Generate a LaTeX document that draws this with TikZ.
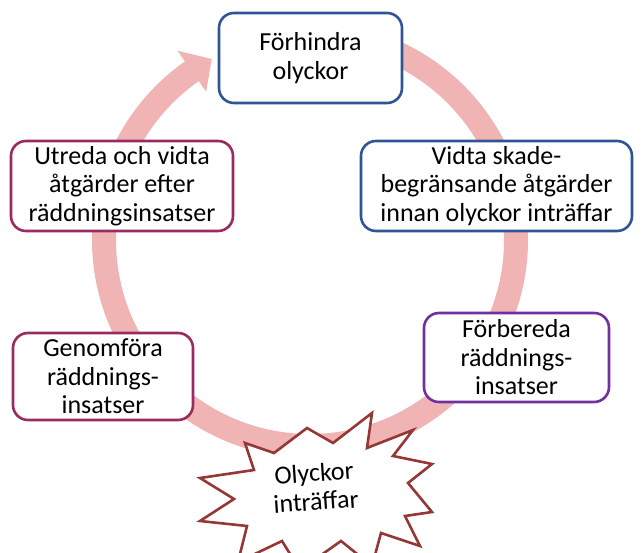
\documentclass[tikz,border=0pt]{standalone}
\usepackage{fontspec}
\setmainfont{Carlito}
\usetikzlibrary{calc}
\definecolor{ringcol}{RGB}{241,180,180}
\definecolor{boxblue}{RGB}{47,85,151}
\definecolor{boxmag}{RGB}{153,43,98}
\definecolor{boxpurple}{RGB}{112,48,160}
\definecolor{starred}{RGB}{149,55,53}
\tikzset{
  cyclebox/.style={draw, line width=2.6pt, rounded corners=15pt, fill=white,
    align=center, inner sep=0pt, font=\fontsize{26}{28.5}\selectfont},
  ringline/.style={draw=ringcol, line width=24pt},
}
\begin{document}
\begin{tikzpicture}[x=1pt,y=-1pt]
\useasboundingbox (0,0) rectangle (643,553);
\fill[white] (0,0) rectangle (643,553);
\coordinate (c) at (310,240);
% ring arrow
\draw[ringline] (c) ++(265:206) arc[start angle=265, end angle=595.4, radius=206];
\fill[ringcol] ($(c)+(235:231)$) -- ($(c)+(241.5:206)$) -- ($(c)+(235:181)$) -- cycle;
% boxes
\node[cyclebox, draw=boxblue, minimum width=183, minimum height=90] (prevent) at (310.5,58) {Förhindra\\olyckor};
\node[cyclebox, draw=boxblue, minimum width=271, minimum height=90] (mitigate) at (496.5,186) {Vidta skade-\\begränsande åtgärder\\innan olyckor inträffar};
\node[cyclebox, draw=boxpurple, minimum width=185, minimum height=89] (prepare) at (516.5,357.5) {Förbereda\\räddnings-\\insatser};
\node[cyclebox, draw=boxmag, minimum width=180, minimum height=87] (perform) at (103,376.5) {Genomföra\\räddnings-\\insatser};
\node[cyclebox, draw=boxmag, minimum width=222, minimum height=90] (investigate) at (122,186) {Utreda och vidta\\åtgärder efter\\räddningsinsatser};
% starburst
\begin{scope}
\clip (0,0) rectangle (643,553);
\filldraw[draw=starred, fill=white, line width=2.6pt, line join=miter]
  (245,443) -- (274,453) -- (307,428) -- (333,443) -- (372,413) -- (367,448)
  -- (413,430) -- (393,456) -- (432,464) -- (408,483) -- (432,512) -- (405,516)
  -- (420,546) -- (381,533) -- (372,566) -- (341,541) -- (300,570) -- (282,541)
  -- (238,562) -- (247,526) -- (200,521) -- (234,499) -- (200,478) -- (254,470) -- cycle;
\end{scope}
\node[align=center, inner sep=0pt, rotate=4, font=\fontsize{26}{29}\selectfont] (accident) at (315,487) {Olyckor\\inträffar};
\end{tikzpicture}
\end{document}
